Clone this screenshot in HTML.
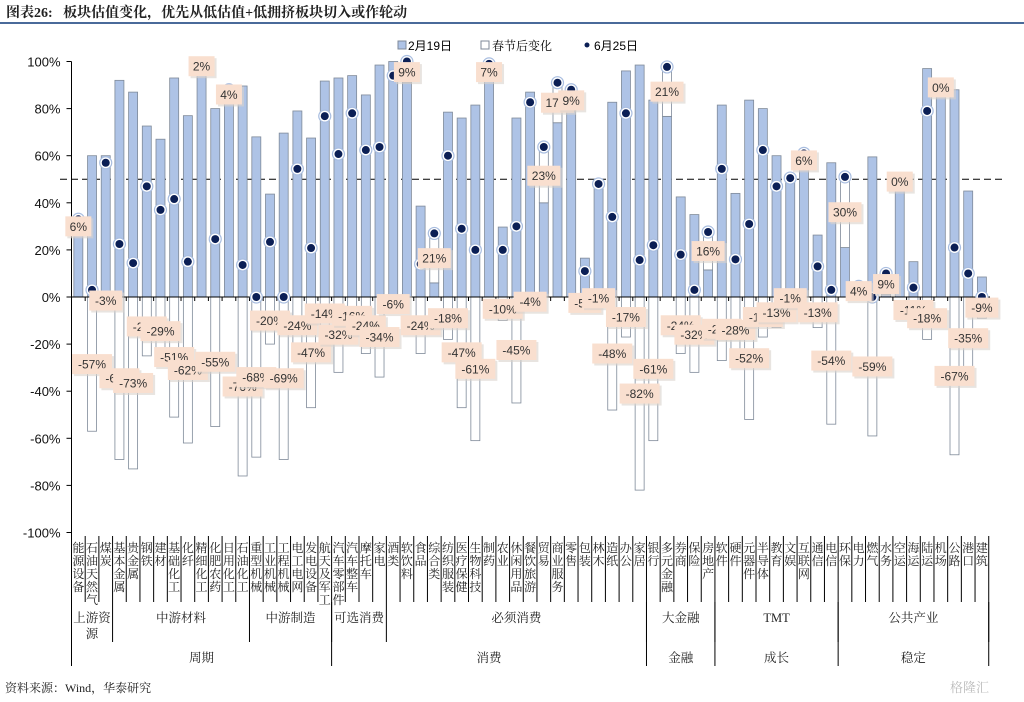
<!DOCTYPE html>
<html><head><meta charset="utf-8"><style>
html,body{margin:0;padding:0;background:#fff;width:1024px;height:702px;overflow:hidden}
svg text{font-family:"Liberation Sans","Noto Sans CJK SC",sans-serif}
.cj{font-family:"Liberation Serif","Noto Serif CJK SC",serif}
</style></head><body>
<svg id="chart" width="1024" height="702" xmlns="http://www.w3.org/2000/svg">
<text x="6" y="17" font-size="14" font-weight="bold" fill="#222" class="cj">图表26:&#160;&#160;&#160;板块估值变化，优先从低估值+低拥挤板块切入或作轮动</text>
<rect x="0" y="22" width="1024" height="2" fill="#4a6a9a"/>
<g font-size="12">
<rect x="398" y="41" width="8" height="8" fill="#aec3e6" stroke="#7f8a99"/>
<text x="408" y="50">2月19日</text>
<rect x="481" y="41" width="8" height="8" fill="#fff" stroke="#7f8a99"/>
<text x="492" y="50" class="cj">春节后变化</text>
<circle cx="587" cy="45" r="2.5" fill="#0b1f55"/>
<text x="594" y="50">6月25日</text>
</g>
<g id="plot"></g>
<text x="5" y="692" font-size="12" fill="#222" class="cj">资料来源：Wind，华泰研究</text>
<text x="950" y="692" font-size="13" fill="#bbb" class="cj">格隆汇</text>
</svg>
<script>
const cats=["能源设备","石油天然气","煤炭","基本金属","贵金属","钢铁","建材","基础化工","化纤","精细化工","化肥农药","日用化工","石油化工","重型机械","工业机械","工程机械","电工电网","发电设备","航天及军工","汽车零部件","汽车整车","摩托车","家电","酒类","软饮料","食品","综合类","纺织服装","医疗保健","生物科技","制药","农业","休闲用品","餐饮旅游","贸易","商业服务","零售","包装","林木","造纸","办公","家居","银行","多元金融","券商","保险","房地产","软件","硬件","元器件","半导体","教育","文娱","互联网","通信","电信","环保","电力","燃气","水务","空运","海运","陆运","机场","公路","港口","建筑"];
const feb=[27,60,60,92,87,72.6,67,93,77,97,80,84,89.6,68,43.7,69.6,79,67.5,91.7,93,94,85.8,98.5,100,91,38.6,6,78.5,76,81.5,92,29.7,76,87,40,74,79,16.5,48.5,82.7,96,98.5,83.6,76.7,42.5,35,11.5,81.5,44,83.6,80,60,51.5,55,26.3,57,21,0.5,59.5,1,49,15,97,89,88,45,8.5];
const chg=[6,-57,-3,-69,-73,-25,-29,-51,-62,2,-55,4,-76,-68,-20,-69,-24,-47,-14,-32,-16,-24,-34,-6,9,-24,21,-18,-47,-61,7,-10,-45,-4,23,17,9,-5,-1,-48,-17,-82,-61,21,-24,-32,16,-27,-28,-52,-17,-13,-1,6,-13,-54,30,4,-59,9,0,-11,-18,0,-67,-35,-9];
const jun=[33,3,57,22.5,14.4,47,37,41.6,15,99,24.6,88,13.6,0,23.4,0,54.4,20.8,76.8,60.7,78,62.4,63.7,94,100,14,27,60,29,20,99,20,30,82.7,63.7,91,88,11,48,34,78,15.7,22,97.7,18,3,27.6,54.4,16,31,62.4,47,50.5,61,13,3,51,4.5,0,10,49,4,79,89,21,10,0];
const yTicks=[100,80,60,40,20,0,-20,-40,-60,-80,-100];
const groups2=[["上游资源",0,2],["中游材料",3,12],["中游制造",13,18],["可选消费",19,22],["必须消费",23,41],["大金融",42,46],["TMT",47,55],["公共产业",56,66]];
const groups3=[["周期",0,18],["消费",19,41],["金融",42,46],["成长",47,55],["稳定",56,66]];

const NS="http://www.w3.org/2000/svg";
const g=document.getElementById('plot');
const X0=71.5,STEP=13.69,Y0=297,K=2.355;
const y=v=>Y0-v*K;
const bx=i=>X0+STEP*i;
const cx=i=>X0+STEP*(i+0.5);
function mk(t,a,p){const e=document.createElementNS(NS,t);for(const k in a)e.setAttribute(k,a[k]);(p||g).appendChild(e);return e;}

let ax=mk('line',{x1:X0,y1:y(100),x2:X0,y2:y(-100),stroke:'#000'});


yTicks.forEach(v=>{
  const t=mk('line',{x1:X0-5,y1:y(v),x2:X0,y2:y(v),stroke:'#000'});
  
  
  const l=mk('text',{x:X0-11,y:y(v)+5,'font-size':13,'text-anchor':'end',fill:'#111'});
  l.textContent=v+'%';
  
  
});
let dl=mk('line',{x1:60,y1:y(50),x2:1005,y2:y(50),stroke:'#000','stroke-dasharray':'7,4'});



cats.forEach((c,i)=>{
  const x=cx(i)-4.5;
  const b=mk('rect',{x:x,y:y(feb[i]),width:9,height:Math.max(0.5,feb[i]*K),fill:'#aec3e6',stroke:'#7f8a99','stroke-width':0.8});
  
  
  let top,bot;
  if(chg[i]>=0){top=feb[i]+chg[i];bot=feb[i];}else{top=0;bot=chg[i];}
  if(top-bot>0){
    const w=mk('rect',{x:x,y:y(top),width:9,height:(top-bot)*K,fill:'#fff',stroke:'#7f8a99','stroke-width':0.8});
    
    
  }
});
let xa=mk('line',{x1:X0,y1:Y0,x2:990,y2:Y0,stroke:'#000'});


for(let i=1;i<=cats.length;i++){
  const t=mk('line',{x1:bx(i),y1:Y0,x2:bx(i),y2:Y0+4,stroke:'#000'});
  
  
}
cats.forEach((c,i)=>{
  const o=mk('circle',{cx:cx(i),cy:y(jun[i]),r:6,fill:'#fff',stroke:'#a8bde0','stroke-width':1.2});
  
  
  const d=mk('circle',{cx:cx(i),cy:y(jun[i]),r:4,fill:'#0b1f55'});
  
  
});
cats.forEach((c,i)=>{
  const v=chg[i];
  const mid=v>0?feb[i]+v/2:(v<0?v/2:feb[i]);
  const txt=v+'%';
  const w=txt.length*7+12;
  const lx=cx(i)-w/2, ly=y(mid)-10;
  const s=mk('rect',{x:lx+2,y:ly+2,width:w,height:20,fill:'#d9d2cc',opacity:0.6});
  
  
  const r=mk('rect',{x:lx,y:ly,width:w,height:20,fill:'#f9dfcf'});
  
  
  const t=mk('text',{x:cx(i),y:ly+14.5,'font-size':12,'text-anchor':'middle',fill:'#333'});
  t.textContent=txt;
  
  
});
let la=mk('line',{x1:X0,y1:530,x2:X0,y2:666,stroke:'#000'});


cats.forEach((c,i)=>{
  const sep=mk('line',{x1:bx(i+1),y1:536,x2:bx(i+1),y2:602,stroke:'#000'});
  
  
  const t=mk('text',{x:cx(i),y:552,'font-size':12,'text-anchor':'middle',fill:'#222',class:'cj'});
  
  
  Array.from(c).forEach((ch,k)=>{
    const sp=mk('tspan',{x:cx(i),y:552+k*13},t);
    sp.textContent=ch;
  });
});
groups2.forEach(([n,a,b])=>{
  const s=mk('line',{x1:bx(b+1),y1:602,x2:bx(b+1),y2:642,stroke:'#000'});
  
  
  const mx=(bx(a)+bx(b+1))/2;
  const t=mk('text',{x:mx,y:622,'font-size':12.5,'text-anchor':'middle',fill:'#222',class:'cj'});
  if(n==="上游资源"){t.textContent="上游资";const t2=mk('text',{x:mx,y:638,'font-size':12.5,'text-anchor':'middle',fill:'#222',class:'cj'});t2.textContent="源";}
  else t.textContent=n;
  
  
});
groups3.forEach(([n,a,b])=>{
  const s=mk('line',{x1:bx(b+1),y1:602,x2:bx(b+1),y2:666,stroke:'#000'});
  
  
  const t=mk('text',{x:(bx(a)+bx(b+1))/2,y:662,'font-size':12.5,'text-anchor':'middle',fill:'#222',class:'cj'});
  t.textContent=n;
  
  
});
</script>
</body></html>
